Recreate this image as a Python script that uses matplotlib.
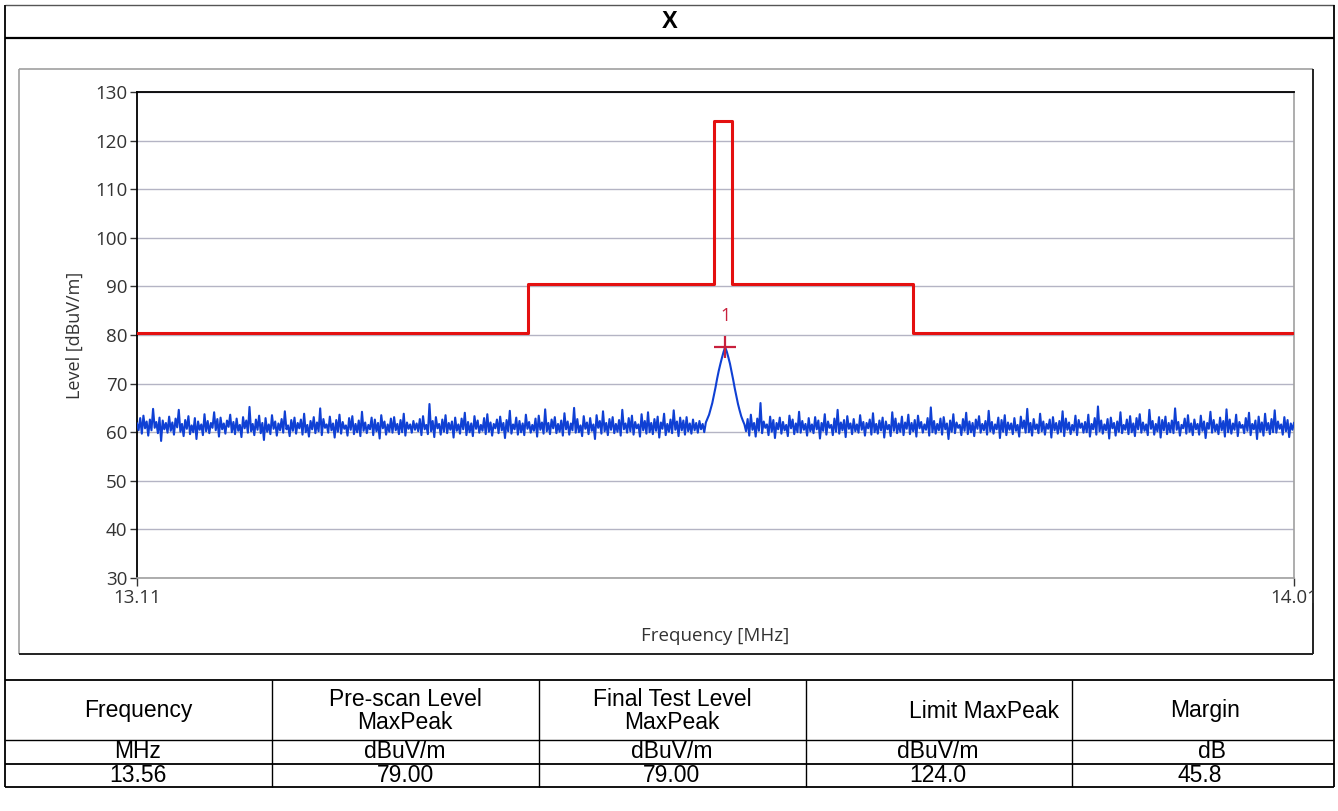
import numpy as np
import matplotlib
matplotlib.use("Agg")
import matplotlib.pyplot as plt

# ---- data ----
f_start, f_stop = 13.11, 14.01
level = [
    61.8, 60.4, 62.9, 59.7, 63.4, 60.8, 62.2, 59.3, 62.6, 60.4, 64.8, 60.9, 62.1, 59.8, 63.0, 58.2, 62.4, 60.6, 61.9, 59.9,
    63.2, 60.3, 62.0, 59.5, 62.8, 61.0, 64.6, 60.1, 61.7, 59.2, 62.5, 60.7, 63.3, 59.6, 61.4, 60.0, 62.9, 58.6, 62.2, 60.5,
    61.6, 59.4, 63.7, 60.2, 62.3, 59.8, 61.9, 60.9, 64.1, 60.4, 62.7, 59.1, 63.0, 60.6, 61.8, 59.7, 62.4, 61.1, 63.6, 60.0,
    62.1, 59.6, 62.8, 60.3, 61.5, 59.0, 63.1, 60.8, 62.4, 59.9, 65.2, 60.2, 61.7, 59.4, 62.6, 60.5, 63.4, 59.8, 61.9, 58.4,
    62.9, 60.1, 61.6, 59.6, 63.5, 60.7, 62.2, 59.3, 61.8, 60.4, 62.7, 59.9, 64.3, 60.6, 61.4, 59.2, 62.5, 60.3, 63.0, 59.7,
    61.9, 60.8, 62.6, 59.5, 63.8, 60.0, 61.5, 59.1, 62.3, 60.6, 63.1, 59.8, 62.0, 60.2, 64.9, 59.4, 62.7, 60.9, 61.6, 59.9,
    63.2, 60.4, 61.8, 58.9, 62.5, 60.1, 63.6, 59.7, 62.1, 60.7, 61.4, 59.3, 62.9, 60.5, 63.3, 59.6, 61.7, 60.0, 62.4, 59.2,
    64.2, 60.3, 62.0, 59.8, 61.5, 60.6, 63.0, 59.4, 62.6, 60.2, 61.9, 58.7, 63.5, 60.8, 62.2, 59.5, 61.6, 60.1, 62.8, 59.9,
    63.1, 60.4, 61.7, 59.6, 62.5, 60.0, 63.8, 59.3, 62.0, 60.7, 61.6, 59.9, 62.3, 60.5, 61.8, 60.2, 62.7, 59.4, 63.3, 60.6,
    61.5, 59.6, 65.8, 60.2, 62.3, 59.0, 63.1, 60.8, 61.7, 59.5, 62.6, 60.1, 63.5, 59.8, 61.9, 60.5, 62.2, 58.9, 63.0, 60.3,
    61.6, 59.7, 62.8, 60.6, 64.0, 59.4, 62.1, 60.0, 61.8, 59.2, 63.3, 60.7, 62.4, 59.9, 61.5, 60.3, 62.9, 59.6, 63.7, 60.1,
    62.0, 59.3, 61.7, 60.8, 62.6, 59.8, 63.2, 60.4, 61.9, 58.8, 62.5, 60.2, 64.4, 59.7, 61.6, 60.6, 63.0, 59.5, 62.3, 60.0,
    61.8, 59.4, 63.6, 60.7, 62.1, 59.9, 61.5, 60.3, 62.8, 59.1, 63.4, 60.5, 62.0, 59.7, 64.7, 60.2, 61.9, 59.6, 62.6, 60.8,
    63.1, 59.8, 61.7, 60.1, 62.4, 59.3, 63.9, 60.6, 62.2, 59.5, 61.8, 60.4, 65.0, 59.9, 62.7, 60.0, 61.4, 59.2, 63.3, 60.7,
    62.0, 59.6, 62.9, 60.3, 61.6, 58.6, 63.5, 60.9, 62.3, 59.7, 64.3, 60.2, 61.9, 59.4, 62.7, 60.5, 63.1, 59.8, 61.7, 60.1,
    62.5, 59.3, 64.6, 60.6, 61.8, 59.9, 62.9, 60.2, 63.4, 59.5, 62.1, 60.8, 61.6, 59.1, 63.7, 60.4, 62.3, 59.7, 64.1, 60.0,
    61.9, 59.6, 62.7, 60.3, 63.2, 58.9, 62.0, 60.7, 63.8, 59.4, 61.7, 60.1, 62.6, 59.8, 64.5, 60.5, 62.2, 59.2, 63.0, 60.4,
    62.4, 59.5, 63.1, 60.2, 61.8, 59.7, 62.6, 60.4, 61.9, 59.9, 62.3, 60.6, 61.7, 60.0, 62.0, 62.8, 63.6, 64.8, 66.0, 67.6,
    69.2, 71.0, 72.6, 74.0, 75.3, 76.5, 77.5, 76.6, 75.4, 74.1, 72.5, 70.8, 69.0, 67.4, 65.8, 64.5, 63.3, 62.4, 61.6, 60.2,
    62.7, 59.3, 63.6, 60.5, 61.9, 59.1, 62.8, 60.3, 66.0, 59.8, 62.2, 60.9, 61.6, 59.4, 63.2, 60.1, 62.5, 58.8, 61.9, 60.6,
    63.0, 59.7, 62.1, 60.4, 61.5, 59.2, 63.4, 60.8, 62.6, 59.6, 61.8, 60.0, 64.2, 59.9, 62.3, 60.5, 61.7, 59.3, 62.9, 60.2,
    61.6, 59.8, 63.1, 60.6, 62.4, 58.7, 61.9, 60.3, 63.7, 59.5, 62.2, 60.9, 61.5, 59.4, 62.8, 60.1, 64.6, 59.7, 62.0, 60.4,
    62.5, 59.0, 63.3, 60.7, 61.8, 59.6, 62.7, 60.2, 61.6, 59.9, 63.5, 60.5, 62.1, 59.3, 61.9, 60.8, 62.6, 59.5, 63.9, 60.0,
    61.7, 59.7, 62.4, 60.4, 63.0, 58.9, 62.2, 60.6, 61.5, 59.2, 64.1, 60.3, 62.8, 59.8, 61.8, 60.1, 63.2, 59.4, 62.0, 60.7,
    63.6, 59.6, 61.9, 60.2, 62.5, 59.1, 63.4, 60.8, 62.1, 59.9, 61.6, 60.5, 62.9, 59.3, 65.1, 60.0, 62.3, 59.7, 61.7, 60.4,
    62.8, 59.5, 63.1, 60.6, 61.8, 58.6, 62.4, 60.1, 63.7, 59.8, 62.0, 60.9, 61.5, 59.4, 62.7, 60.3, 64.0, 59.6, 62.2, 60.0,
    61.9, 59.2, 62.6, 60.7, 63.3, 59.9, 61.7, 60.4, 62.3, 59.5, 64.4, 60.2, 62.1, 59.7, 61.6, 60.6, 63.0, 58.8, 62.5, 60.1,
    63.5, 59.4, 62.0, 60.5, 61.8, 59.6, 62.9, 60.3, 61.5, 59.1, 63.2, 60.8, 62.4, 59.9, 64.8, 60.0, 61.9, 59.3, 62.7, 60.6,
    61.6, 59.8, 63.8, 60.2, 62.2, 59.5, 61.7, 60.7, 62.6, 58.9, 63.1, 60.4, 61.9, 59.7, 62.3, 60.1, 64.3, 59.2, 62.8, 60.5,
    62.0, 59.6, 61.5, 60.3, 63.4, 59.4, 62.5, 60.9, 61.8, 59.9, 62.1, 60.0, 63.6, 59.1, 61.7, 60.6, 62.9, 59.5, 65.3, 60.2,
    62.4, 59.7, 61.6, 60.4, 62.7, 58.7, 63.0, 60.8, 61.9, 59.3, 62.2, 60.1, 64.1, 59.8, 61.5, 60.5, 62.6, 59.6, 63.3, 60.0,
    61.8, 59.2, 62.9, 60.6, 63.7, 59.9, 62.0, 60.3, 61.6, 59.4, 64.6, 60.7, 62.3, 59.5, 61.7, 60.2, 63.1, 58.9, 62.5, 60.4,
    63.2, 59.6, 61.9, 60.0, 62.4, 59.8, 64.9, 60.5, 62.1, 59.3, 61.5, 60.8, 62.8, 59.7, 63.5, 60.1, 61.8, 59.4, 62.6, 60.6,
    61.7, 59.5, 63.4, 60.3, 62.2, 58.8, 61.9, 60.7, 64.2, 59.9, 62.5, 60.2, 61.6, 59.6, 63.0, 60.4, 62.3, 59.1, 64.7, 60.0,
    62.6, 59.7, 61.8, 60.5, 63.6, 59.2, 62.1, 60.9, 61.5, 59.8, 62.9, 60.3, 64.0, 59.4, 61.7, 60.6, 62.4, 58.6, 63.2, 60.1,
    62.0, 59.3, 63.8, 60.4, 61.9, 59.6, 62.7, 60.0, 64.5, 59.9, 62.2, 60.7, 61.6, 59.5, 63.1, 60.2, 62.5, 59.0, 61.8, 60.5,
    61.9,
]
freq = np.linspace(f_start, f_stop, len(level))

limit_f = [13.11, 13.414, 13.414, 13.559, 13.559, 13.573, 13.573, 13.714, 13.714, 14.01]
limit_v = [80.5, 80.5, 90.5, 90.5, 124.0, 124.0, 90.5, 90.5, 80.5, 80.5]

marker_f, marker_v, marker_label = 13.5675, 77.5, "1"

yticks = [30, 40, 50, 60, 70, 80, 90, 100, 110, 120, 130]
xticks = [13.11, 14.01]

col_head = ["Frequency", "Pre-scan Level\nMaxPeak", "Final Test Level\nMaxPeak", "Limit MaxPeak", "Margin"]
col_unit = ["MHz", "dBuV/m", "dBuV/m", "dBuV/m", "dB"]
col_vals = ["13.56", "79.00", "79.00", "124.0", "45.8"]

# ---- figure ----
W, H = 1338, 811
fig = plt.figure(figsize=(W / 100, H / 100), dpi=100)
fig.patch.set_facecolor("white")

# overlay in pixel coords for the frame / table
bg = fig.add_axes([0, 0, 1, 1])
bg.set_xlim(0, W)
bg.set_ylim(H, 0)
bg.axis("off")

def hline(y, x0=5, x1=1334, lw=1.3, c="black"):
    bg.plot([x0, x1], [y, y], color=c, lw=lw, solid_capstyle="butt")

def vline(x, y0, y1, lw=1.3, c="black"):
    bg.plot([x, x], [y0, y1], color=c, lw=lw, solid_capstyle="butt")

hline(5, lw=1.0, c="#555555")
hline(38, lw=1.6)
hline(680, lw=1.3)
hline(740, lw=1.0)
hline(764, lw=1.3)
hline(787, lw=1.3)
vline(5, 5, 787)
vline(1334, 5, 787)
col_x = [5, 272, 539, 806, 1072, 1334]
for x in col_x[1:-1]:
    vline(x, 680, 787, lw=1.0)

# chart box
vline(19, 69, 654, lw=1.2, c="#a0a0a0")
hline(69, 19, 1313, lw=1.2, c="#a0a0a0")
hline(654, 19, 1313, lw=1.4, c="#222222")
vline(1313, 69, 654, lw=1.4, c="#222222")

bg.text(670, 22, "X", ha="center", va="center", fontsize=17, fontweight="bold",
        family="Liberation Sans")

tfont = dict(family="Liberation Sans", fontsize=16.5, color="black", ha="center", va="center",
             linespacing=1.0)
head_cx = [138, 405, 672, 984, 1205]
unit_cx = [138, 405, 672, 938, 1212]
val_cx = [138, 405, 672, 938, 1200]
for i in range(5):
    bg.text(head_cx[i], 711, col_head[i], **tfont)
    bg.text(unit_cx[i], 752, col_unit[i], **tfont)
    bg.text(val_cx[i], 776, col_vals[i], **tfont)

# ---- chart axes ----
L, R, T, B = 137, 1294, 92, 578
ax = fig.add_axes([L / W, (H - B) / H, (R - L) / W, (B - T) / H])
ax.set_xlim(f_start, f_stop)
ax.set_ylim(30, 130)
ax.set_yticks(yticks)
ax.set_xticks(xticks)
ax.set_xticklabels(["13.11", "14.01"])
ax.yaxis.grid(True, color="#b4b4c4", lw=1.0)
ax.set_axisbelow(True)

ax.plot(freq, level, color="#0f40d4", lw=1.5, zorder=3)
ax.plot(limit_f, limit_v, color="#e41010", lw=2.2, zorder=4)
ax.plot([marker_f], [marker_v], marker="+", ms=16, mew=1.6, color="#c8203c", zorder=5)
ax.text(marker_f, marker_v + 6.5, marker_label, color="#c8203c", ha="center", va="center",
        fontsize=13, family="Open Sans")

for s in ["left", "top"]:
    ax.spines[s].set_color("black")
    ax.spines[s].set_linewidth(1.3)
for s in ["bottom", "right"]:
    ax.spines[s].set_color("#a0a0a0")
    ax.spines[s].set_linewidth(1.2)

ax.tick_params(axis="y", direction="out", length=5, width=1.0, color="#333333",
               labelsize=13.5, labelcolor="#333333", pad=2)
ax.tick_params(axis="x", direction="out", length=6, width=1.0, color="#333333",
               labelsize=13.5, labelcolor="#333333", pad=2)
for lab in ax.get_xticklabels() + ax.get_yticklabels():
    lab.set_family("Open Sans")

ax.set_ylabel("Level [dBuV/m]", family="Open Sans", fontsize=13, color="#333333", labelpad=8)
ax.set_xlabel("Frequency [MHz]", family="Open Sans", fontsize=13.5, color="#333333", labelpad=14)

fig.savefig("out.png", dpi=100)
